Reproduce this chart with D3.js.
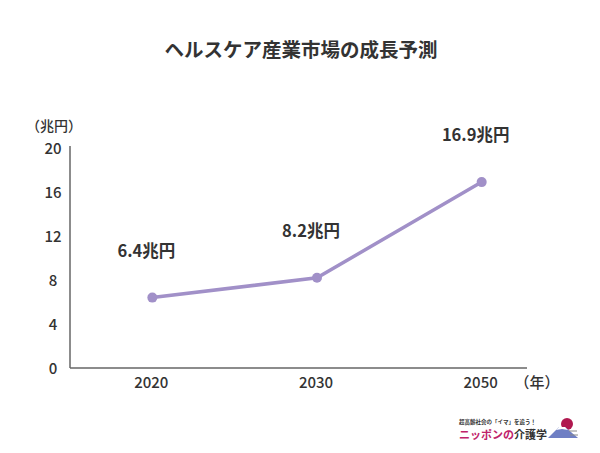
<!DOCTYPE html>
<html>
<head>
<meta charset="utf-8">
<script src="https://cdn.jsdelivr.net/npm/d3@7"></script>
<style>
  body { margin: 0; background: #fff; }
  text { font-family: "Noto Sans CJK JP", "Noto Sans", sans-serif; }
</style>
</head>
<body>
<div id="chart"></div>
<script>
var years = ["2020", "2030", "2050"];
var values = [6.4, 8.2, 16.9];
var valueLabels = ["6.4兆円", "8.2兆円", "16.9兆円"];
var yTicks = [0, 4, 8, 12, 16, 20];

var width = 600, height = 453;
var svg = d3.select("#chart").append("svg")
    .attr("width", width).attr("height", height);

// title
svg.append("text")
    .attr("x", 301).attr("y", 57)
    .attr("text-anchor", "middle")
    .attr("font-size", 19.5).attr("font-weight", "bold")
    .attr("fill", "#333")
    .text("ヘルスケア産業市場の成長予測");

var x = d3.scalePoint().domain(years).range([70, 564]).padding(0.5);
var y = d3.scaleLinear().domain([0, 20]).range([368, 148]);

// axis lines
svg.append("line")
    .attr("x1", 70).attr("x2", 70).attr("y1", 146).attr("y2", y(0))
    .attr("stroke", "#666").attr("stroke-width", 1.5);
svg.append("line")
    .attr("x1", 70).attr("x2", 527).attr("y1", y(0)).attr("y2", y(0))
    .attr("stroke", "#666").attr("stroke-width", 1.5);

// y tick labels
svg.selectAll(".ytick").data(yTicks).enter().append("text")
    .attr("class", "ytick")
    .attr("x", 53).attr("y", function (d) { return y(d) + 5.5; })
    .attr("text-anchor", "middle")
    .attr("font-size", 15).attr("font-weight", 500).attr("fill", "#333")
    .text(function (d) { return d; });

svg.append("text")
    .attr("x", 54).attr("y", 131)
    .attr("text-anchor", "middle")
    .attr("font-size", 14).attr("font-weight", 500).attr("fill", "#333")
    .text("（兆円）");

// x tick labels
svg.selectAll(".xtick").data(years).enter().append("text")
    .attr("class", "xtick")
    .attr("x", function (d) { return x(d) - 1; }).attr("y", 388)
    .attr("text-anchor", "middle")
    .attr("font-size", 15).attr("font-weight", 500).attr("fill", "#333")
    .text(function (d) { return d; });

svg.append("text")
    .attr("x", 537).attr("y", 388)
    .attr("text-anchor", "middle")
    .attr("font-size", 15).attr("font-weight", 500).attr("fill", "#333")
    .text("（年）");

// line
var pts = years.map(function (d, i) { return [x(d), y(values[i])]; });
svg.append("path")
    .datum(pts)
    .attr("d", d3.line())
    .attr("fill", "none")
    .attr("stroke", "#a190c8").attr("stroke-width", 3.5);

svg.selectAll(".dot").data(pts).enter().append("circle")
    .attr("cx", function (d) { return d[0]; })
    .attr("cy", function (d) { return d[1]; })
    .attr("r", 5).attr("fill", "#a190c8");

// value labels
svg.selectAll(".vlabel").data(years).enter().append("text")
    .attr("class", "vlabel")
    .attr("x", function (d) { return x(d) - 6; })
    .attr("y", function (d, i) { return y(values[i]) - 41; })
    .attr("text-anchor", "middle")
    .attr("font-size", 16.5).attr("font-weight", "bold").attr("fill", "#333")
    .text(function (d, i) { return valueLabels[i]; });

// logo
var logo = svg.append("g").attr("transform", "translate(459,426)");
logo.append("text")
    .attr("x", 0).attr("y", -2.5)
    .attr("font-size", 5.5).attr("font-weight", "bold").attr("fill", "#333")
    .attr("textLength", 77)
    .text("超高齢社会の「イマ」を追う！");
logo.append("text")
    .attr("x", 0).attr("y", 12.5)
    .attr("font-size", 11).attr("font-weight", "bold").attr("fill", "#333")
    .html('<tspan fill="#c0226a">ニッポンの</tspan>介護学');
logo.append("circle").attr("cx", 108).attr("cy", -2).attr("r", 6).attr("fill", "#b0184f");
logo.append("path")
    .attr("d", "M89,12 L100,1 L106,1 L119,12 Z")
    .attr("fill", "#6f7fc4");
logo.append("path")
    .attr("d", "M97,4 L100,1 L106,1 L109,4 L103,3 Z")
    .attr("fill", "#fff");
logo.append("line").attr("x1", 110).attr("x2", 118).attr("y1", 5).attr("y2", 5)
    .attr("stroke", "#888").attr("stroke-width", 1);
logo.append("line").attr("x1", 111).attr("x2", 119).attr("y1", 9).attr("y2", 9)
    .attr("stroke", "#888").attr("stroke-width", 1);
</script>
</body>
</html>
